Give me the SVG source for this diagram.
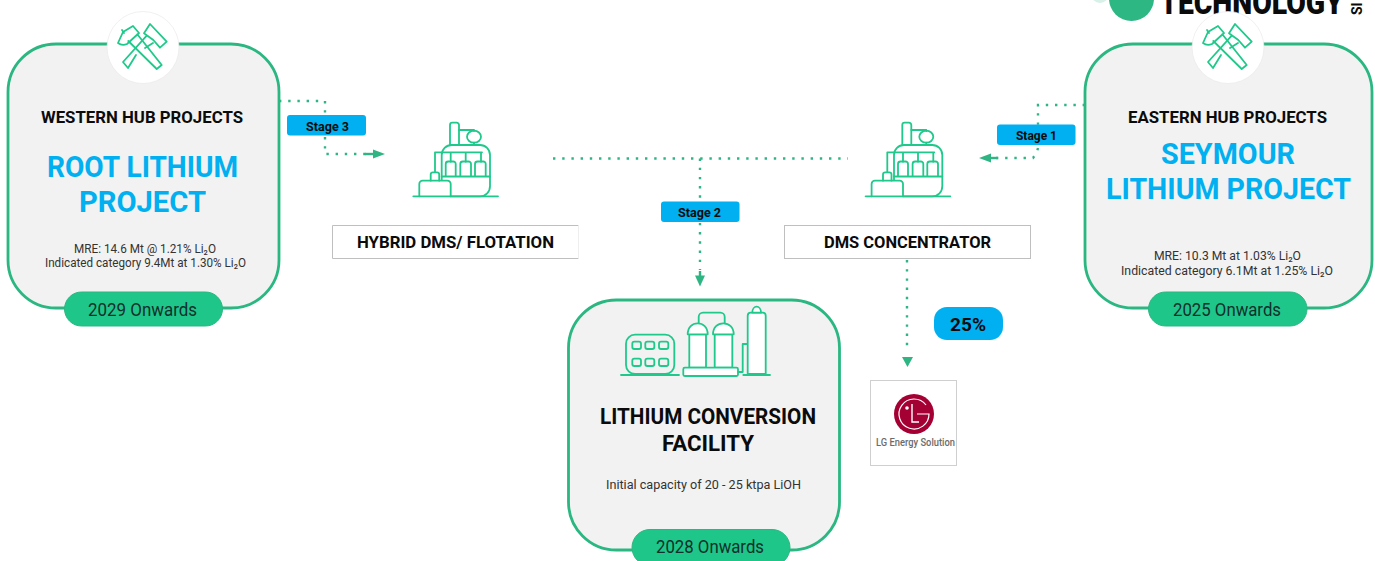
<svg xmlns="http://www.w3.org/2000/svg" width="1375" height="561" viewBox="0 0 1375 561">
<style>
text{font-family:Roboto,"Liberation Sans",sans-serif;text-anchor:start}
.card{fill:#f2f2f2;stroke:#2bb781;stroke-width:2.800}
.pill{fill:#1fc68a;stroke:#2bb781;stroke-width:1}
.onw{font-size:18px;fill:#10302a}
.hub{font-size:17px;font-weight:700;fill:#0b0b0b}
.big{font-size:29px;font-weight:700;fill:#00b0f0}
.sm{font-size:12.500px;fill:#333}
.badge{fill:#00b0f0}
.stage{font-size:12px;font-weight:700;fill:#0b0b0b}
.lbl{fill:#fff;stroke:#bfbfbf;stroke-width:1}
.icon{fill:none;stroke:#1fc98b;stroke-width:1.800;stroke-linejoin:round;stroke-linecap:round}
.dot{fill:none;stroke:#2fb583;stroke-width:2.400;stroke-dasharray:2.400 6.800}
.head{fill:#2fb583}
.shaft{fill:none;stroke:#2fb583;stroke-width:2.400}
.disc{fill:#fff;stroke:#e9e9e9;stroke-width:.7}
</style>
<defs>
<g id="hammers" class="icon">
<path d="M-25,-4L-20,-15L-10,-21L-4,-14L-16,-3Q-21,-1 -25,-4ZM-5.700,-12.700L18.700,18L13.700,22L-14.700,-6M-21,-17L-19,-14"/>
<path d="M7,-23L23.700,-5.300L17,.7L10.300,-7L1,-13.700ZM3.700,-11.300L-20,15L-15,21L-7,8M2,1L10,-4"/>
</g>
<g id="plant" class="icon">
<path d="M413.300,196.300H498"/>
<path d="M450,145V125a2.300,2.300 0 0 1 2.300,-2.300h4.400a2.300,2.300 0 0 1 2.300,2.300V145"/>
<path d="M459,130H474V131"/>
<ellipse cx="474" cy="136.700" rx="7" ry="6"/>
<path d="M474,142.700V145"/>
<path d="M441.700,180V155a10,10 0 0 1 10,-10H480a10,10 0 0 1 10,10V186a10,10 0 0 1 -10,10.300H450.700"/>
<path d="M435,172V152.300H482M450.700,152.300V161.700M465.700,152.300V161.700M481,152.300V161.700"/>
<path d="M445.700,176V164a2.500,2.500 0 0 1 2.500,-2.500H453.200a2.500,2.500 0 0 1 2.500,2.500V176M460.300,176V164a2.500,2.500 0 0 1 2.500,-2.500H468.500a2.500,2.500 0 0 1 2.500,2.500V176M475,176V164a2.500,2.500 0 0 1 2.500,-2.500H483.200a2.500,2.500 0 0 1 2.500,2.500V176"/>
<path d="M441.700,176.500H490"/>
<path d="M430.700,180.700V174.500a2.200,2.200 0 0 1 2.200,-2.200H437a2.200,2.200 0 0 1 2.200,2.200V180.700"/>
<path d="M419.300,196.300V184a3.300,3.300 0 0 1 3.300,-3.300H447.400a3.300,3.300 0 0 1 3.300,3.300V196.300"/>
</g>
</defs>

<g id="brand">
<circle cx="1100" cy="-6" r="9" fill="#d8f1e8"/>
<circle cx="1131.500" cy="-1.500" r="22.500" fill="#2db783"/>
<text x="1160" y="14" font-size="33" font-weight="900" fill="#0b0b0b" textLength="183" lengthAdjust="spacingAndGlyphs">TECHNOLOGY</text>
<text transform="translate(1362,15) rotate(-90)" font-size="14" font-weight="700" fill="#0b0b0b">SI</text>
</g>

<g id="connectors">
<path class="dot" d="M279,101H325V115"/>
<path class="dot" d="M325,137V154H366"/>
<path class="shaft" d="M365,154H374"/><path class="head" d="M385,154L373,149.500V158.500Z"/>
<path class="dot" d="M1085,105H1038V125"/>
<path class="dot" d="M1038,148L1037,152L1033,158H996"/>
<path class="shaft" d="M989,158H998"/><path class="head" d="M979,158L991,153.500V162.500Z"/>
<path class="dot" d="M553,158.500H848"/>
<path class="dot" d="M700,158.500V270"/>
<path class="shaft" d="M700,271V277"/><path class="head" d="M700,286.500L695,275.500H705Z"/>
<path class="dot" d="M907,260V352"/>
<path class="head" d="M907.500,367L902,357H913Z"/>
</g>

<g id="stage3"><rect class="badge" x="287" y="115" width="79" height="20.500" rx="3"/><text class="stage" x="306" y="130.500" textLength="43" lengthAdjust="spacingAndGlyphs">Stage 3</text></g>
<g id="stage2"><rect class="badge" x="661" y="201.500" width="78.500" height="20.500" rx="3"/><text class="stage" x="678" y="217" textLength="43" lengthAdjust="spacingAndGlyphs">Stage 2</text></g>
<g id="stage1"><rect class="badge" x="997" y="124.500" width="78.500" height="20.500" rx="3"/><text class="stage" x="1016" y="140" textLength="41" lengthAdjust="spacingAndGlyphs">Stage 1</text></g>

<g id="western-hub">
<rect class="card" x="8" y="44" width="271" height="264" rx="48"/>
<circle class="disc" cx="143" cy="47.500" r="36"/>
<use href="#hammers" transform="translate(143,47)"/>
<text class="hub" x="41" y="123" textLength="202" lengthAdjust="spacingAndGlyphs">WESTERN HUB PROJECTS</text>
<text class="big" x="47" y="177" textLength="191" lengthAdjust="spacingAndGlyphs">ROOT LITHIUM</text>
<text class="big" x="79" y="212" textLength="127" lengthAdjust="spacingAndGlyphs">PROJECT</text>
<text class="sm" x="74" y="253" textLength="142" lengthAdjust="spacingAndGlyphs">MRE: 14.6 Mt @ 1.21% Li₂O</text>
<text class="sm" x="45" y="267" textLength="201" lengthAdjust="spacingAndGlyphs">Indicated category 9.4Mt at 1.30% Li₂O</text>
<rect class="pill" x="64.500" y="292" width="158" height="34" rx="17"/>
<text class="onw" x="88" y="316" textLength="109" lengthAdjust="spacingAndGlyphs">2029 Onwards</text>
</g>

<g id="eastern-hub">
<rect class="card" x="1085" y="44" width="287" height="264" rx="48"/>
<circle class="disc" cx="1228" cy="47.500" r="36"/>
<use href="#hammers" transform="translate(1228,47)"/>
<text class="hub" x="1128" y="123" textLength="199" lengthAdjust="spacingAndGlyphs">EASTERN HUB PROJECTS</text>
<text class="big" x="1161" y="164" textLength="134" lengthAdjust="spacingAndGlyphs">SEYMOUR</text>
<text class="big" x="1106" y="199" textLength="245" lengthAdjust="spacingAndGlyphs">LITHIUM PROJECT</text>
<text class="sm" x="1154" y="260" textLength="147" lengthAdjust="spacingAndGlyphs">MRE: 10.3 Mt at 1.03% Li₂O</text>
<text class="sm" x="1121" y="275" textLength="212" lengthAdjust="spacingAndGlyphs">Indicated category 6.1Mt at 1.25% Li₂O</text>
<rect class="pill" x="1148.500" y="292" width="158.500" height="34" rx="17"/>
<text class="onw" x="1173" y="316" textLength="108" lengthAdjust="spacingAndGlyphs">2025 Onwards</text>
</g>

<g id="hybrid-plant">
<use href="#plant"/>
<rect x="332.500" y="225.500" width="246" height="33" fill="#fff"/>
<path d="M578.500,225.500H332.500V258.500H578.500" fill="none" stroke="#bfbfbf"/>
<path d="M578.500,225.500V258.500" fill="none" stroke="#eeeeee"/>
<text class="hub" x="357" y="248" textLength="197" lengthAdjust="spacingAndGlyphs">HYBRID DMS/ FLOTATION</text>
</g>

<g id="dms-plant">
<use href="#plant" transform="translate(452.300,0)"/>
<rect class="lbl" x="784.500" y="225.500" width="246" height="33"/>
<text class="hub" x="824" y="248" textLength="167" lengthAdjust="spacingAndGlyphs">DMS CONCENTRATOR</text>
</g>

<g id="conversion-facility">
<rect class="card" x="568.500" y="300" width="271" height="250" rx="48"/>
<g class="icon">
<path d="M621,375H679"/>
<rect x="626" y="334.700" width="48.300" height="39.300" rx="9"/>
<rect x="632.300" y="341.700" width="8.700" height="7.300" rx="2"/><rect x="645.300" y="341.700" width="9" height="7.300" rx="2"/><rect x="659" y="341.700" width="9.300" height="7.300" rx="2"/>
<rect x="632.300" y="358.700" width="8.700" height="7.300" rx="2"/><rect x="645.300" y="358.700" width="9" height="7.300" rx="2"/><rect x="659" y="358.700" width="9.300" height="7.300" rx="2"/>
<path d="M698.700,325V317a4.300,4.300 0 0 1 4.300,-4.300H720.400a4.300,4.300 0 0 1 4.300,4.300V325"/>
<path fill="#fff" d="M689.300,334.300V367.700H706V334.300Z"/>
<path fill="#fff" d="M714.700,334.300V367.700H732.300V334.300Z"/>
<path fill="#fff" d="M687.700,334.300H707.700C707.700,327 703,323.300 697.700,323.300C692.400,323.300 687.700,327 687.700,334.300Z"/>
<path fill="#fff" d="M713,334.300H733.700C733.700,327 729,323.300 723.300,323.300C717.700,323.300 713,327 713,334.300Z"/>
<rect fill="#fff" x="683.300" y="367.700" width="54.700" height="8.300" rx="1.500"/>
<path d="M738,372H742.700V344H747.700"/>
<path fill="#fff" d="M747.700,374V315.700a3,3 0 0 1 3,-3H762.700a3,3 0 0 1 3,3V374Z"/>
<path fill="#fff" d="M752.300,312.700C752.300,304.700 761,304.700 761,312.700Z"/>
<path d="M743.300,375H770"/>
</g>
<text class="hub" style="font-size:22px" x="600" y="424" textLength="216" lengthAdjust="spacingAndGlyphs">LITHIUM CONVERSION</text>
<text class="hub" style="font-size:22px" x="662" y="451" textLength="92" lengthAdjust="spacingAndGlyphs">FACILITY</text>
<text class="sm" x="606" y="489" textLength="195" lengthAdjust="spacingAndGlyphs">Initial capacity of 20 - 25 ktpa LiOH</text>
<rect class="pill" x="632" y="529.500" width="158" height="36" rx="18"/>
<text class="onw" x="656" y="553" textLength="108" lengthAdjust="spacingAndGlyphs">2028 Onwards</text>
</g>

<g id="lg-energy-solution">
<rect x="870.500" y="380.500" width="86" height="85" fill="#fff" stroke="#cfcfcf"/>
<circle cx="914" cy="414" r="20" fill="#a50034"/>
<path d="M926,405A15,15 0 1 0 929,414H917" fill="none" stroke="#fff" stroke-width="1.200"/>
<path d="M912,404V422H919" fill="none" stroke="#fff" stroke-width="1.400"/>
<circle cx="907" cy="408" r="1.800" fill="#fff"/>
<text x="876" y="446" font-size="11" font-weight="500" fill="#6b6b6b" textLength="79" lengthAdjust="spacingAndGlyphs">LG Energy Solution</text>
</g>

<g id="share-25">
<rect class="badge" x="934" y="307" width="69" height="33" rx="13"/>
<text x="950" y="331" font-size="18" font-weight="700" fill="#0b0b0b" textLength="36" lengthAdjust="spacingAndGlyphs">25%</text>
</g>
</svg>
